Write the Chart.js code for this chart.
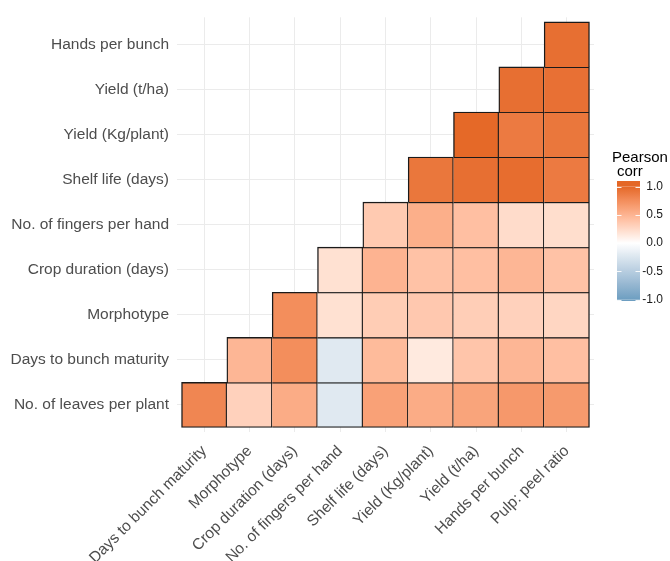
<!DOCTYPE html>
<html>
<head>
<meta charset="utf-8">
<script src="https://cdn.jsdelivr.net/npm/chart.js@4.4.1/dist/chart.umd.min.js"></script>
<style>
  html, body { margin: 0; padding: 0; background: #ffffff; }
  canvas { display: block; }
</style>
</head>
<body>
<canvas id="corr" width="670" height="561"></canvas>
<script>
// Row variables (bottom to top) and column variables (left to right)
const rowLabels = [
  'No. of leaves per plant', 'Days to bunch maturity', 'Morphotype',
  'Crop duration (days)', 'No. of fingers per hand', 'Shelf life (days)',
  'Yield (Kg/plant)', 'Yield (t/ha)', 'Hands per bunch'
];
const colLabels = [
  'Days to bunch maturity', 'Morphotype', 'Crop duration (days)',
  'No. of fingers per hand', 'Shelf life (days)', 'Yield (Kg/plant)',
  'Yield (t/ha)', 'Hands per bunch', 'Pulp: peel ratio'
];

// Pearson correlations of each row variable with the column variables after it
const corrLeaves        = [0.80, 0.30, 0.55, -0.22, 0.62, 0.55, 0.60, 0.68, 0.67];
const corrBunchMaturity = [0.48, 0.75, -0.22, 0.45, 0.14, 0.38, 0.48, 0.42];
const corrMorphotype    = [0.75, 0.20, 0.33, 0.36, 0.32, 0.30, 0.27];
const corrCropDuration  = [0.20, 0.50, 0.40, 0.42, 0.48, 0.40];
const corrFingers       = [0.35, 0.53, 0.42, 0.23, 0.22];
const corrShelfLife     = [0.90, 0.95, 0.96, 0.88];
const corrYieldPlant    = [0.99, 0.88, 0.90];
const corrYieldHa       = [0.95, 0.94];
const corrHands         = [0.95];

const legendTicks = [1.0, 0.5, 0.0, -0.5, -1.0];

const rows = [corrLeaves, corrBunchMaturity, corrMorphotype, corrCropDuration,
  corrFingers, corrShelfLife, corrYieldPlant, corrYieldHa, corrHands];

// ---- diverging colour scale (low / mid / high), interpolated in CIE Lab ----
const LOW = '#6D9EC1', MID = '#FFFFFF', HIGH = '#E46726';

function hexToRgb(h) {
  const n = parseInt(h.slice(1), 16);
  return [(n >> 16) & 255, (n >> 8) & 255, n & 255];
}
function toLinear(c) { c /= 255; return c <= 0.04045 ? c / 12.92 : Math.pow((c + 0.055) / 1.055, 2.4); }
function fromLinear(c) { const v = c <= 0.0031308 ? 12.92 * c : 1.055 * Math.pow(c, 1 / 2.4) - 0.055; return Math.round(Math.max(0, Math.min(1, v)) * 255); }
const WX = 0.95047, WY = 1.0, WZ = 1.08883;
function rgbToLab(rgb) {
  const [r, g, b] = rgb.map(toLinear);
  const x = (r * 0.4124 + g * 0.3576 + b * 0.1805) / WX;
  const y = (r * 0.2126 + g * 0.7152 + b * 0.0722) / WY;
  const z = (r * 0.0193 + g * 0.1192 + b * 0.9505) / WZ;
  const f = t => t > 216 / 24389 ? Math.cbrt(t) : (24389 / 27 * t + 16) / 116;
  const fx = f(x), fy = f(y), fz = f(z);
  return [116 * fy - 16, 500 * (fx - fy), 200 * (fy - fz)];
}
function labToRgb(lab) {
  const fy = (lab[0] + 16) / 116, fx = fy + lab[1] / 500, fz = fy - lab[2] / 200;
  const inv = t => t * t * t > 216 / 24389 ? t * t * t : (116 * t - 16) / (24389 / 27);
  const x = inv(fx) * WX, y = inv(fy) * WY, z = inv(fz) * WZ;
  const r = x * 3.2406 + y * -1.5372 + z * -0.4986;
  const g = x * -0.9689 + y * 1.8758 + z * 0.0415;
  const b = x * 0.0557 + y * -0.2040 + z * 1.0570;
  return [fromLinear(r), fromLinear(g), fromLinear(b)];
}
const labLow = rgbToLab(hexToRgb(LOW)), labMid = rgbToLab(hexToRgb(MID)), labHigh = rgbToLab(hexToRgb(HIGH));
function corrColour(v) {
  const t = Math.max(-1, Math.min(1, v));
  const end = t >= 0 ? labHigh : labLow, a = Math.abs(t);
  const lab = labMid.map((m, i) => m + (end[i] - m) * a);
  const [r, g, b] = labToRgb(lab);
  return `rgb(${r},${g},${b})`;
}

// ---- tiles as floating bars: x = column position, y = [row - 0.5, row + 0.5] ----
const cells = [];
rows.forEach((vals, ri) => {
  vals.forEach((v, k) => {
    const row = ri + 1, col = ri + 1 + k;
    cells.push({ x: col, y: [row - 0.5, row + 0.5], corr: v, row, col });
  });
});

const FONT = "'Liberation Sans', Arial, Helvetica, sans-serif";
const AXIS_GREY = '#4D4D4D';
const EDGE = 1.4;

// Each tile draws its top and right edges; left edge on the diagonal, bottom edge on the first row
function tileBorder(ctx) {
  const c = ctx.raw;
  if (!c) return EDGE;
  return { top: EDGE, right: EDGE, left: c.col === c.row ? EDGE : 0, bottom: c.row === 1 ? EDGE : 0 };
}

// Colour bar legend on the right
const colourBar = {
  id: 'colourBar',
  afterDraw(chart) {
    const ctx = chart.ctx;
    const x = 617, w = 23, top = 181, bottom = 301;
    const yFor = v => 243 - 56.5 * v;
    ctx.save();
    const grad = ctx.createLinearGradient(0, yFor(1), 0, yFor(-1));
    for (let i = 0; i <= 40; i++) {
      const v = 1 - i / 20;
      grad.addColorStop(i / 40, corrColour(v));
    }
    ctx.fillStyle = corrColour(1);
    ctx.fillRect(x, top, w, yFor(1) - top);
    ctx.fillStyle = corrColour(-1);
    ctx.fillRect(x, yFor(-1), w, bottom - yFor(-1));
    ctx.fillStyle = grad;
    ctx.fillRect(x, yFor(1), w, yFor(-1) - yFor(1));
    // white tick marks on both sides of the bar
    ctx.strokeStyle = 'rgba(255,255,255,0.9)';
    ctx.lineWidth = 1;
    legendTicks.forEach(v => {
      const y = Math.round(yFor(v)) + 0.5;
      ctx.beginPath();
      ctx.moveTo(x, y); ctx.lineTo(x + 4.5, y);
      ctx.moveTo(x + w - 4.5, y); ctx.lineTo(x + w, y);
      ctx.stroke();
    });
    // tick labels
    ctx.fillStyle = '#1A1A1A';
    ctx.font = `12px ${FONT}`;
    ctx.textAlign = 'right';
    ctx.textBaseline = 'middle';
    legendTicks.forEach(v => ctx.fillText(v.toFixed(1), 663, yFor(v)));
    // title
    ctx.fillStyle = '#000000';
    ctx.font = `15px ${FONT}`;
    ctx.textAlign = 'left';
    ctx.textBaseline = 'alphabetic';
    ctx.fillText('Pearson', 612, 162);
    ctx.fillText('corr', 617, 176);
    ctx.restore();
  }
};

new Chart(document.getElementById('corr'), {
  type: 'bar',
  data: {
    datasets: [{
      data: cells,
      backgroundColor: ctx => ctx.raw ? corrColour(ctx.raw.corr) : '#fff',
      borderColor: '#1A1A1A',
      borderWidth: tileBorder,
      borderSkipped: false,
      barPercentage: 1.0,
      categoryPercentage: 1.0
    }]
  },
  options: {
    responsive: false,
    animation: false,
    devicePixelRatio: 1,
    layout: { padding: { top: 15, right: 76, bottom: 0, left: 0 } },
    plugins: { legend: { display: false }, tooltip: { enabled: false } },
    scales: {
      x: {
        type: 'linear',
        offset: false,
        min: 0.4, max: 9.6,
        afterBuildTicks: s => { s.ticks = colLabels.map((_, i) => ({ value: i + 1 })); },
        afterFit: s => { s.height = 129; },
        grid: { offset: false, color: '#EBEBEB', lineWidth: 1, drawTicks: false },
        border: { display: false },
        ticks: {
          autoSkip: false,
          minRotation: 45, maxRotation: 45,
          padding: 10,
          color: AXIS_GREY,
          font: { family: FONT, size: 15.5 },
          callback: v => colLabels[Math.round(v) - 1]
        }
      },
      y: {
        type: 'linear',
        min: 0.4, max: 9.6,
        afterBuildTicks: s => { s.ticks = rowLabels.map((_, i) => ({ value: i + 1 })); },
        afterFit: s => { s.width = 177; },
        grid: { color: '#EBEBEB', lineWidth: 1, drawTicks: false },
        border: { display: false },
        ticks: {
          padding: 8,
          color: AXIS_GREY,
          font: { family: FONT, size: 15.5 },
          callback: v => rowLabels[Math.round(v) - 1]
        }
      }
    }
  },
  plugins: [colourBar]
});
</script>
</body>
</html>
